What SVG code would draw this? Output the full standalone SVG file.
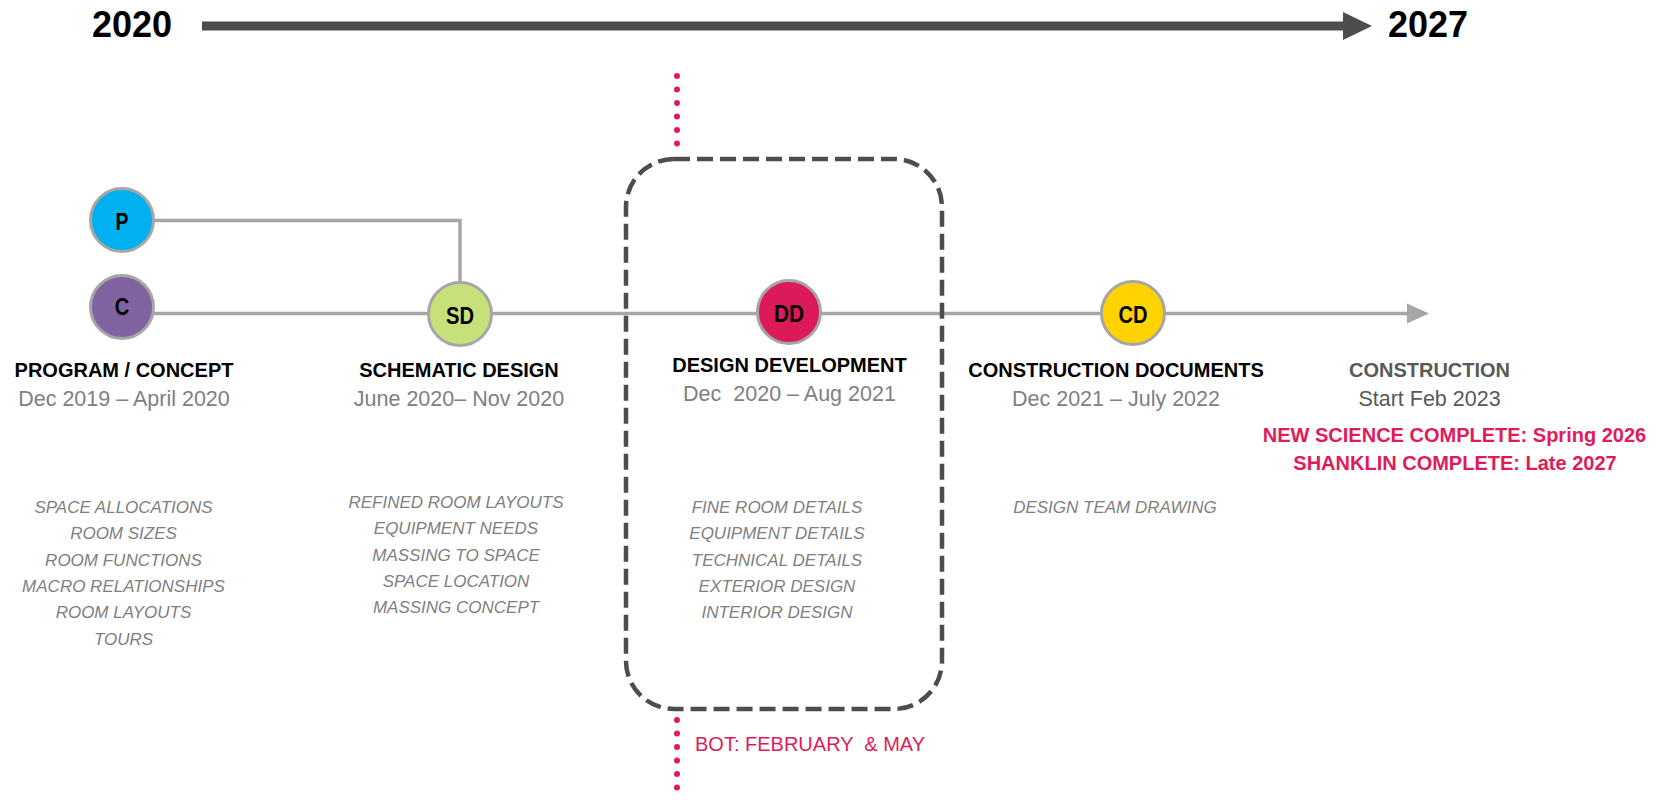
<svg xmlns="http://www.w3.org/2000/svg" width="1668" height="807" viewBox="0 0 1668 807">
<style>
text{font-family:"Liberation Sans",Arial,sans-serif}
.yr{font-size:36px;font-weight:bold;fill:#000}
.ttl{font-size:20px;font-weight:bold;fill:#000;text-anchor:middle}
.date{font-size:21.5px;fill:#808080;text-anchor:middle;white-space:pre}
.item{font-size:17px;font-style:italic;fill:#7f7f7f;text-anchor:middle}
.red{font-size:20px;font-weight:bold;fill:#e01b5c;text-anchor:middle}
.lbl{font-size:24px;font-weight:bold;fill:#000;text-anchor:middle}
.node{stroke:#a6a6a6;stroke-width:3}
.conn{fill:none;stroke:#a6a6a6;stroke-width:3.5}
.dots{stroke:#e01b5c;stroke-width:6;stroke-linecap:round;stroke-dasharray:0 13.5}
</style>
<rect width="1668" height="807" fill="#fff"/>

<g id="years">
<text class="yr" x="92" y="37">2020</text>
<text class="yr" x="1388" y="37">2027</text>
<rect x="202" y="21.5" width="1143" height="9" fill="#4d4d4d"/>
<polygon points="1343,12 1372,26 1343,40" fill="#4d4d4d"/>
</g>

<g id="connectors">
<path class="conn" d="M154 220.5 H460 V282"/>
<path class="conn" d="M154 313.5 H1410"/>
<polygon points="1407,303.5 1429,313.5 1407,323.5" fill="#a6a6a6"/>
<line class="dots" x1="677" y1="76" x2="677" y2="157"/>
<line class="dots" x1="677" y1="720" x2="677" y2="801"/>
</g>

<g id="dd-box">
<rect x="626" y="159" width="316" height="550" rx="48" ry="48" fill="none" stroke="#4d4d4d" stroke-width="4.5" stroke-dasharray="16 7"/>
</g>

<g id="node-P">
<circle class="node" cx="122" cy="220" r="31.5" fill="#00b0f0"/>
<text class="lbl" x="122" y="230" textLength="13" lengthAdjust="spacingAndGlyphs">P</text>
</g>
<g id="node-C">
<circle class="node" cx="122" cy="307" r="31.5" fill="#8064a2"/>
<text class="lbl" x="122" y="315" textLength="14.5" lengthAdjust="spacingAndGlyphs">C</text>
</g>
<g id="node-SD">
<circle class="node" cx="460" cy="314" r="31.5" fill="#c6e17a"/>
<text class="lbl" x="460" y="324" textLength="28" lengthAdjust="spacingAndGlyphs">SD</text>
</g>
<g id="node-DD">
<circle class="node" cx="789" cy="312" r="31.5" fill="#dc1a5a"/>
<text class="lbl" x="789" y="322" textLength="30" lengthAdjust="spacingAndGlyphs">DD</text>
</g>
<g id="node-CD">
<circle class="node" cx="1133" cy="313" r="31.5" fill="#ffd200"/>
<text class="lbl" x="1133" y="323" textLength="29" lengthAdjust="spacingAndGlyphs">CD</text>
</g>

<g id="phase-program">
<text class="ttl" x="124" y="377">PROGRAM / CONCEPT</text>
<text class="date" x="124" y="406">Dec 2019 – April 2020</text>
<text class="item" x="123.5" y="513">SPACE ALLOCATIONS</text>
<text class="item" x="123.5" y="539.3">ROOM SIZES</text>
<text class="item" x="123.5" y="565.6">ROOM FUNCTIONS</text>
<text class="item" x="123.5" y="592">MACRO RELATIONSHIPS</text>
<text class="item" x="123.5" y="618.3">ROOM LAYOUTS</text>
<text class="item" x="123.5" y="644.6">TOURS</text>
</g>

<g id="phase-schematic">
<text class="ttl" x="459" y="377">SCHEMATIC DESIGN</text>
<text class="date" x="459" y="406">June 2020– Nov 2020</text>
<text class="item" x="456" y="508">REFINED ROOM LAYOUTS</text>
<text class="item" x="456" y="534.3">EQUIPMENT NEEDS</text>
<text class="item" x="456" y="560.6">MASSING TO SPACE</text>
<text class="item" x="456" y="587">SPACE LOCATION</text>
<text class="item" x="456" y="613.3">MASSING CONCEPT</text>
</g>

<g id="phase-dd">
<text class="ttl" x="789.5" y="372">DESIGN DEVELOPMENT</text>
<text class="date" x="789.5" y="401">Dec  2020 – Aug 2021</text>
<text class="item" x="777" y="513">FINE ROOM DETAILS</text>
<text class="item" x="777" y="539.3">EQUIPMENT DETAILS</text>
<text class="item" x="777" y="565.6">TECHNICAL DETAILS</text>
<text class="item" x="777" y="592">EXTERIOR DESIGN</text>
<text class="item" x="777" y="618.3">INTERIOR DESIGN</text>
</g>

<g id="phase-cd">
<text class="ttl" x="1116" y="377">CONSTRUCTION DOCUMENTS</text>
<text class="date" x="1116" y="406">Dec 2021 – July 2022</text>
<text class="item" x="1115" y="513">DESIGN TEAM DRAWING</text>
</g>

<g id="phase-construction">
<text class="ttl" x="1429.5" y="377" style="fill:#595959">CONSTRUCTION</text>
<text class="date" x="1429.5" y="406" style="fill:#595959">Start Feb 2023</text>
<text class="red" x="1454.5" y="442">NEW SCIENCE COMPLETE: Spring 2026</text>
<text class="red" x="1455" y="470">SHANKLIN COMPLETE: Late 2027</text>
</g>

<g id="bot-note">
<text x="695" y="751" style="font-size:20px;fill:#e01b5c;white-space:pre">BOT: FEBRUARY  &amp; MAY</text>
</g>
</svg>
